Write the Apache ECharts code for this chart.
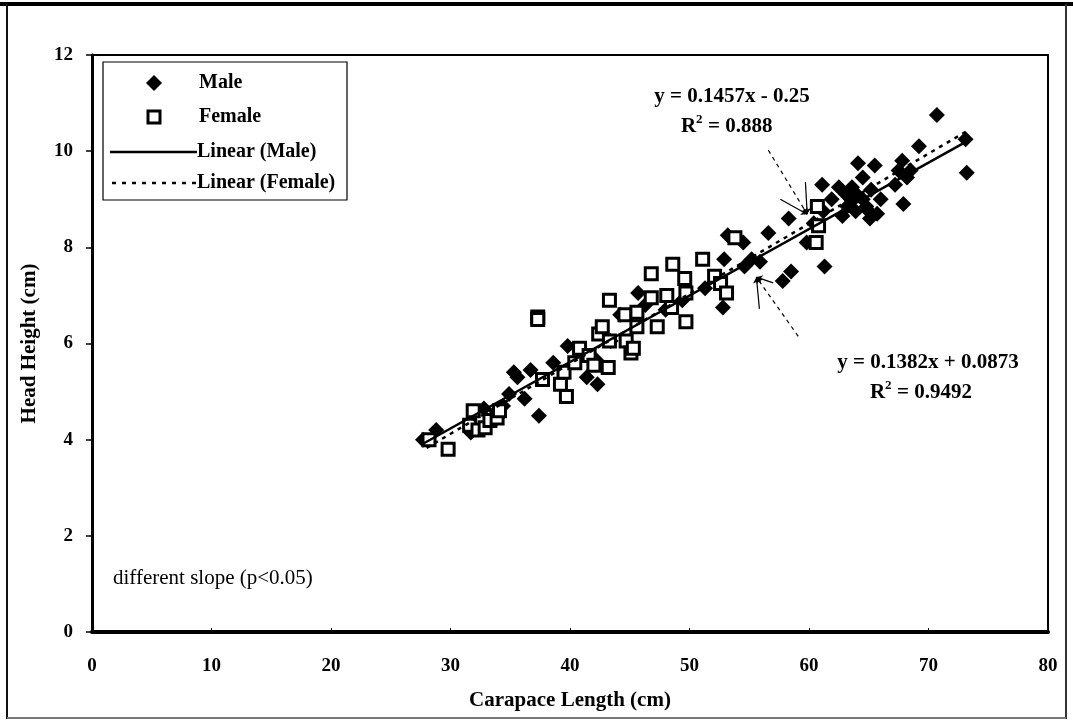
<!DOCTYPE html>
<html>
<head>
<meta charset="utf-8">
<script src="https://cdn.jsdelivr.net/npm/echarts@6/dist/echarts.min.js"></script>
<style>
  html, body { margin: 0; padding: 0; background: #fff; }
  #chart { width: 1073px; height: 723px; }
</style>
</head>
<body>
<div id="chart"></div>
<script>
// Carapace length (cm) and head height (cm) of males
const maleLength = [27.7, 28.8, 31.7, 32.8, 33.9, 34.4, 34.9, 35.3, 35.6, 36.2, 36.7, 37.4, 38.6, 39.8, 40.8, 41.4, 42.3, 42.2, 43.4, 44.2,
  45.7, 46.3, 48.0, 49.4, 51.3, 52.8, 52.9, 53.2, 54.5, 54.6, 55.2, 55.9, 56.6, 57.8, 58.5, 58.3, 59.8, 60.4, 61.2, 61.3,
  61.1, 61.9, 62.5, 62.8, 63.1, 63.5, 63.6, 63.9, 64.1, 64.5, 64.5, 65.0, 65.1, 65.2, 65.5, 65.7, 66.0, 67.2, 67.5, 67.8,
  67.9, 68.2, 68.5, 69.2, 70.7, 73.1, 73.2, 64.0, 64.8, 63.2];
const maleHeight = [4.0, 4.2, 4.15, 4.65, 4.45, 4.7, 4.95, 5.4, 5.3, 4.85, 5.45, 4.5, 5.6, 5.95, 5.85, 5.3, 5.15, 5.65, 6.05, 6.6,
  7.05, 6.8, 6.7, 6.9, 7.15, 6.75, 7.75, 8.25, 8.1, 7.6, 7.75, 7.7, 8.3, 7.3, 7.5, 8.6, 8.1, 8.5, 8.75, 7.6,
  9.3, 9.0, 9.25, 8.65, 9.1, 9.0, 9.25, 8.75, 9.75, 9.0, 9.45, 8.75, 8.6, 9.2, 9.7, 8.7, 9.0, 9.3, 9.6, 9.8,
  8.9, 9.45, 9.6, 10.1, 10.75, 10.25, 9.55, 9.1, 8.85, 8.85];

// Carapace length (cm) and head height (cm) of females
const femaleLength = [28.2, 29.8, 31.6, 31.9, 32.3, 32.9, 33.3, 33.9, 34.1, 37.3, 37.3, 37.7, 39.2, 39.5, 39.7, 40.4, 40.8, 41.6, 42.0, 42.4,
  42.7, 43.3, 43.3, 43.2, 44.6, 44.7, 45.1, 45.3, 45.6, 45.6, 46.8, 46.8, 47.3, 48.1, 48.6, 48.5, 49.6, 49.7, 49.7, 51.1,
  52.1, 52.6, 53.1, 53.8, 60.7, 60.8, 60.6];
const femaleHeight = [4.0, 3.8, 4.3, 4.6, 4.2, 4.25, 4.4, 4.45, 4.6, 6.55, 6.5, 5.25, 5.15, 5.4, 4.9, 5.6, 5.9, 5.75, 5.55, 6.2,
  6.35, 6.9, 6.05, 5.5, 6.6, 6.05, 5.8, 5.9, 6.65, 6.35, 6.95, 7.45, 6.35, 7.0, 7.65, 6.75, 7.35, 7.05, 6.45, 7.75,
  7.4, 7.25, 7.05, 8.2, 8.85, 8.45, 8.1];

// Fitted linear trends: [slope, intercept], drawn across [xStart, xEnd]
const maleFit = [0.1382, 0.0873];
const femaleFit = [0.1457, -0.25];
const maleFitRange = [27.7, 73.2];
const femaleFitRange = [28.0, 73.2];
const maleR2 = '0.9492';
const femaleR2 = '0.888';

// Axis ticks
const xTicks = [0, 10, 20, 30, 40, 50, 60, 70, 80];
const yTicks = [0, 2, 4, 6, 8, 10, 12];

// Pointer arrows from each equation to its trend line: [from, to] in data units
const femaleArrows = [
  [[56.6, 10.02], [59.85, 8.69]],
  [[57.6, 9.0], [59.85, 8.69]],
  [[59.7, 9.36], [59.85, 8.69]]
];
const maleArrows = [
  [[59.1, 6.15], [55.6, 7.38]],
  [[57.0, 7.26], [55.6, 7.38]],
  [[55.85, 6.72], [55.6, 7.38]]
];

const serif = '"Liberation Serif", "Times New Roman", serif';
const zip = (xs, ys) => xs.map((x, i) => [x, ys[i]]);
const fitLine = (fit, range) => range.map(x => [x, fit[0] * x + fit[1]]);
const arrowData = (arr, dashed) => arr.map((c, i) => ({
  coords: c,
  lineStyle: { type: (dashed && i === 0) ? [4, 4] : 'solid' }
}));
const fmt = (v) => String(Math.abs(v));
const equation = (fit) => 'y = ' + fit[0] + 'x ' + (fit[1] < 0 ? '- ' : '+ ') + fmt(fit[1]);

// "R² = value": base letter, raised exponent, then the value
const rSquared = (x, y, value) => ({
  type: 'group', x: x, y: y, z: 11,
  children: [
    { type: 'text', x: 0, y: 0, style: { text: 'R', fontFamily: serif, fontWeight: 'bold', fontSize: 21, fill: '#000', verticalAlign: 'middle' } },
    { type: 'text', x: 15, y: -7, style: { text: '2', fontFamily: serif, fontWeight: 'bold', fontSize: 13, fill: '#000', verticalAlign: 'middle' } },
    { type: 'text', x: 27, y: 0, style: { text: '= ' + value, fontFamily: serif, fontWeight: 'bold', fontSize: 21, fill: '#000', verticalAlign: 'middle' } }
  ]
});

const chart = echarts.init(document.getElementById('chart'));

const option = {
  backgroundColor: '#ffffff',
  animation: false,
  grid: {
    left: 92, right: 25, top: 55, bottom: 91,
    show: true, borderColor: '#000', borderWidth: 2, backgroundColor: 'transparent'
  },
  xAxis: {
    type: 'value',
    min: xTicks[0], max: xTicks[xTicks.length - 1], interval: 10,
    name: 'Carapace Length (cm)',
    nameLocation: 'middle', nameGap: 58,
    nameTextStyle: { fontFamily: serif, fontWeight: 'bold', fontSize: 21, color: '#000' },
    axisLine: { show: true, lineStyle: { color: '#000', width: 4 } },
    axisTick: { show: true, inside: true, length: 4, lineStyle: { color: '#000', width: 1 } },
    axisLabel: { fontFamily: serif, fontWeight: 'bold', fontSize: 19, color: '#000', margin: 25 },
    splitLine: { show: false }
  },
  yAxis: {
    type: 'value',
    min: yTicks[0], max: yTicks[yTicks.length - 1], interval: 2,
    name: 'Head Height (cm)',
    nameLocation: 'middle', nameGap: 52,
    nameTextStyle: { fontFamily: serif, fontWeight: 'bold', fontSize: 21, color: '#000' },
    axisLine: { show: true, lineStyle: { color: '#000', width: 3 } },
    axisTick: { show: true, inside: false, length: 6, lineStyle: { color: '#000', width: 1.5 } },
    axisLabel: { fontFamily: serif, fontWeight: 'bold', fontSize: 19, color: '#000', margin: 19 },
    splitLine: { show: false }
  },
  series: [
    {
      name: 'Male', type: 'scatter', symbol: 'diamond', symbolSize: 16,
      itemStyle: { color: '#000', opacity: 1 },
      data: zip(maleLength, maleHeight), z: 2
    },
    {
      name: 'Female', type: 'scatter', symbol: 'rect', symbolSize: 12,
      itemStyle: { color: '#fff', borderColor: '#000', borderWidth: 3, opacity: 1 },
      data: zip(femaleLength, femaleHeight), z: 3
    },
    {
      name: 'Linear (Male)', type: 'line', showSymbol: false, symbol: 'none',
      lineStyle: { color: '#000', width: 2.5 },
      data: fitLine(maleFit, maleFitRange), z: 4
    },
    {
      name: 'Linear (Female)', type: 'line', showSymbol: false, symbol: 'none',
      lineStyle: { color: '#000', width: 2.5, type: [4, 5] },
      data: fitLine(femaleFit, femaleFitRange), z: 4
    },
    {
      type: 'lines', coordinateSystem: 'cartesian2d', silent: true, z: 5,
      symbol: ['none', 'arrow'], symbolSize: 6,
      lineStyle: { color: '#000', width: 1.2, opacity: 1 },
      data: arrowData(femaleArrows, true)
    },
    {
      type: 'lines', coordinateSystem: 'cartesian2d', silent: true, z: 5,
      symbol: ['none', 'arrow'], symbolSize: 6,
      lineStyle: { color: '#000', width: 1.2, opacity: 1 },
      data: arrowData(maleArrows, true)
    }
  ],
  graphic: [
    // outer frame
    { type: 'line', shape: { x1: 0, y1: 4, x2: 1073, y2: 4 }, style: { stroke: '#000', lineWidth: 4 } },
    { type: 'line', shape: { x1: 7, y1: 4, x2: 7, y2: 719 }, style: { stroke: '#111', lineWidth: 2 } },
    { type: 'line', shape: { x1: 1066, y1: 4, x2: 1066, y2: 719 }, style: { stroke: '#333', lineWidth: 2 } },
    { type: 'line', shape: { x1: 7, y1: 718, x2: 1066, y2: 718 }, style: { stroke: '#777', lineWidth: 2 } },
    // legend
    { type: 'rect', shape: { x: 103, y: 62, width: 244, height: 138 }, style: { fill: '#fff', stroke: '#000', lineWidth: 1.2 }, z: 10 },
    { type: 'polygon', shape: { points: [[154, 75], [162, 83], [154, 91], [146, 83]] }, style: { fill: '#000' }, z: 11 },
    { type: 'rect', shape: { x: 148, y: 111, width: 12, height: 12 }, style: { fill: '#fff', stroke: '#000', lineWidth: 3 }, z: 11 },
    { type: 'line', shape: { x1: 110, y1: 152, x2: 197, y2: 152 }, style: { stroke: '#000', lineWidth: 2.5 }, z: 11 },
    { type: 'line', shape: { x1: 112, y1: 183, x2: 197, y2: 183 }, style: { stroke: '#000', lineWidth: 2.5, lineDash: [4, 6] }, z: 11 },
    { type: 'text', x: 199, y: 83, z: 11, style: { text: 'Male', fontFamily: serif, fontWeight: 'bold', fontSize: 20, fill: '#000', verticalAlign: 'middle' } },
    { type: 'text', x: 199, y: 117, z: 11, style: { text: 'Female', fontFamily: serif, fontWeight: 'bold', fontSize: 20, fill: '#000', verticalAlign: 'middle' } },
    { type: 'text', x: 197, y: 152, z: 11, style: { text: 'Linear (Male)', fontFamily: serif, fontWeight: 'bold', fontSize: 20, fill: '#000', verticalAlign: 'middle' } },
    { type: 'text', x: 197, y: 183, z: 11, style: { text: 'Linear (Female)', fontFamily: serif, fontWeight: 'bold', fontSize: 20, fill: '#000', verticalAlign: 'middle' } },
    // trend equations
    { type: 'text', x: 732, y: 97, z: 11, style: { text: equation(femaleFit), fontFamily: serif, fontWeight: 'bold', fontSize: 21, fill: '#000', align: 'center', verticalAlign: 'middle' } },
    rSquared(681, 127, femaleR2),
    { type: 'text', x: 928, y: 363, z: 11, style: { text: equation(maleFit), fontFamily: serif, fontWeight: 'bold', fontSize: 21, fill: '#000', align: 'center', verticalAlign: 'middle' } },
    rSquared(870, 393, maleR2),
    // slope comparison note
    { type: 'text', x: 113, y: 578, z: 11, style: { text: 'different slope (p<0.05)', fontFamily: serif, fontSize: 21, fill: '#000', verticalAlign: 'middle' } }
  ]
};

chart.setOption(option);
</script>
</body>
</html>
